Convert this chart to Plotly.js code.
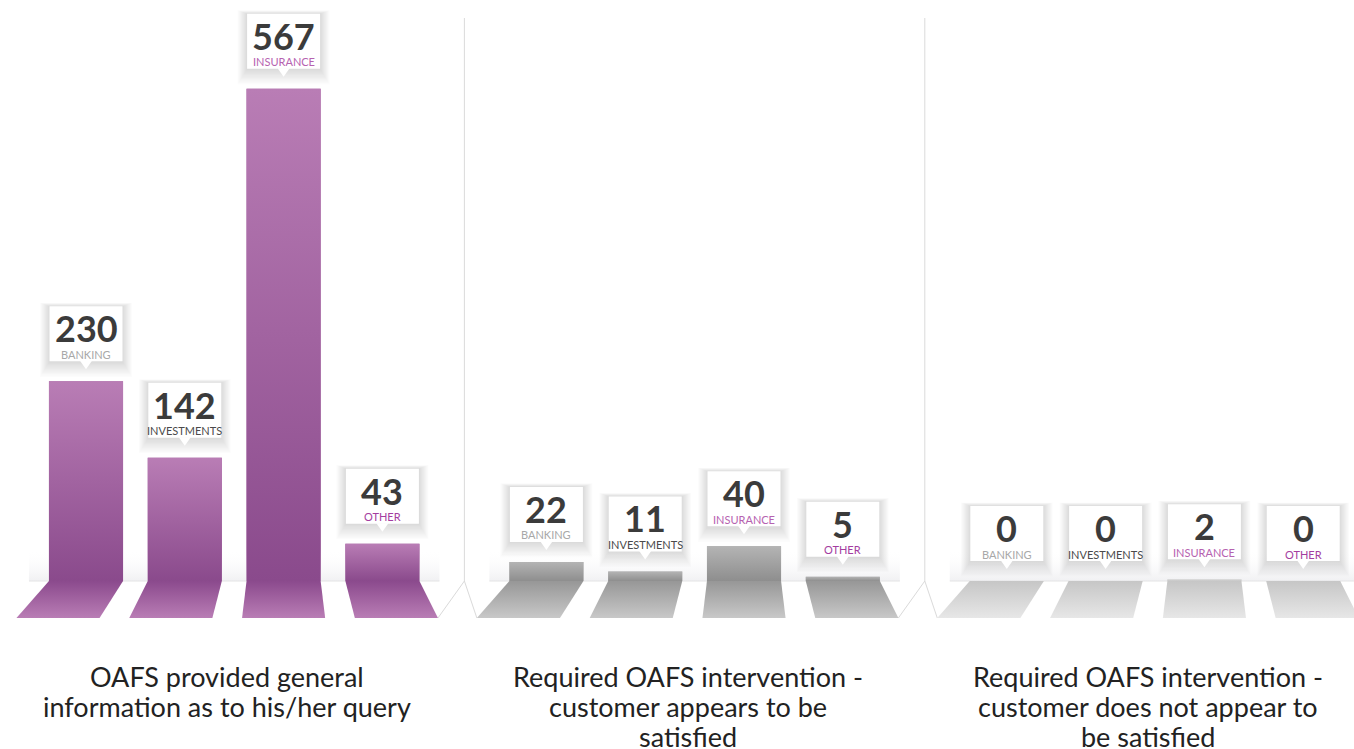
<!DOCTYPE html>
<html><head><meta charset="utf-8">
<script src="https://cdn.plot.ly/plotly-3.0.1.min.js"></script>
<style>html,body{margin:0;padding:0;background:#fff}#chart{width:1354px;height:749px}</style>
</head><body><div id="chart"></div>
<script>
// ---------- data ----------
const categories = ["BANKING", "INVESTMENTS", "INSURANCE", "OTHER"];
const groupLabels = [
  "OAFS provided general<br>information as to his/her query",
  "Required OAFS intervention -<br>customer appears to be<br>satisfied",
  "Required OAFS intervention -<br>customer does not appear to<br>be satisfied"
];
const generalInformation = [230, 142, 567, 43];
const interventionSatisfied = [22, 11, 40, 5];
const interventionNotSatisfied = [0, 0, 2, 0];
const seriesValues = [generalInformation, interventionSatisfied, interventionNotSatisfied];

// ---------- styles / layout constants ----------
const W = 1354, H = 749;
const BASE_PX = 581, PX_PER_UNIT = 0.868;
const BAR_STEP_PX = 98.8, FIRST_BAR_PX = 86;
const GROUP_STEP = 4.66, BAR_W = 0.75;
const FLOOR_PX = 37, FLOOR_SHIFT_PX = 14, FLOOR_EXTRA_PX = 4.5;
const yMin = -(H - BASE_PX) / PX_PER_UNIT, yMax = BASE_PX / PX_PER_UNIT;
const xMin = -FIRST_BAR_PX / BAR_STEP_PX, xMax = (W - FIRST_BAR_PX) / BAR_STEP_PX;
const floorY = -FLOOR_PX / PX_PER_UNIT;
const pxX = p => p / BAR_STEP_PX;

const barSolid = ["#a4609f", "#a0a0a0", "#d2d2d2"];
const barGrad = [
  [[0, "#8a4a8c"], [1, "#b97db5"]],
  [[0, "#8e8e8e"], [1, "#b4b4b4"]],
  [[0, "#c6c6c6"], [1, "#d9d9d9"]]
];
const floorGrad = [
  [[0, "#b97db5"], [1, "#8b4a8d"]],
  [[0, "#c8c8c8"], [1, "#979797"]],
  [[0, "#e7e7e7"], [1, "#c6c6c6"]]
];
const labelColors = ["#a8a8a8", "#4a4a4a", "#b662b0", "#a43da0"];
const FONT = "Lato, 'Open Sans', sans-serif";

const traces = [];
const shapes = [];
const annotations = [];

const xPos = (g, i) => g * GROUP_STEP + i;

seriesValues.forEach((vals, g) => {
  const gl = xPos(g, 0) - BAR_W / 2 - pxX(20), gr = xPos(g, 3) + BAR_W / 2 + pxX(20);
  // soft back-wall shading
  traces.push({
    type: "scatter", mode: "none", hoverinfo: "skip", showlegend: false,
    x: [gl, gr, gr, gl, gl], y: [0, 0, 32 / PX_PER_UNIT, 32 / PX_PER_UNIT, 0],
    fill: "toself",
    fillgradient: {type: "vertical", colorscale: [[0, "rgba(226,226,230,0.5)"], [1, "rgba(255,255,255,0)"]]}
  });
  // baseline
  shapes.push({type: "line", xref: "x", yref: "y", x0: gl, x1: gr, y0: 0, y1: 0,
    line: {color: "#e4e4e4", width: 1}, layer: "below"});
});

seriesValues.forEach((vals, g) => {
  // real bars
  traces.push({
    type: "bar", x: categories.map((c, i) => xPos(g, i)), y: vals, width: BAR_W,
    marker: {color: barSolid[g], line: {width: 0}},
    hovertext: categories, hoverinfo: "text+y", showlegend: false
  });
});

seriesValues.forEach((vals, g) => {
  vals.forEach((v, i) => {
    const c = xPos(g, i), l = c - BAR_W / 2, r = c + BAR_W / 2;
    // gradient face of bar
    if (v > 0) {
      traces.push({
        type: "scatter", mode: "none", hoverinfo: "skip", showlegend: false,
        x: [l, r, r, l, l], y: [0, 0, v, v, 0], fill: "toself",
        fillgradient: {type: "vertical", colorscale: barGrad[g]}
      });
    }
    // floor reflection
    const s = pxX((i - 2) * FLOOR_SHIFT_PX), e = pxX(FLOOR_EXTRA_PX);
    traces.push({
      type: "scatter", mode: "none", hoverinfo: "skip", showlegend: false,
      x: [l, r, r + s + e, l + s - e, l], y: [0, 0, floorY, floorY, 0], fill: "toself",
      fillgradient: {type: "vertical", colorscale: floorGrad[g]}
    });

    // callout box soft shadow
    for (let k = 12; k >= 1; k--) {
      shapes.push({type: "rect", xref: "x", yref: "y", layer: "above",
        xsizemode: "pixel", ysizemode: "pixel", xanchor: c, yanchor: v,
        x0: -36.5 - k * 0.8, x1: 36.5 + k * 0.8, y0: 20 - k * 1.3, y1: 75 + k * 0.3,
        fillcolor: "rgba(0,0,0,0.011)", line: {width: 0}});
    }
    shapes.push({type: "rect", xref: "x", yref: "y", layer: "above",
      xsizemode: "pixel", ysizemode: "pixel", xanchor: c, yanchor: v,
      x0: -36.5, x1: 36.5, y0: 20, y1: 75, fillcolor: "#ffffff", line: {width: 0}});
    shapes.push({type: "path", xref: "x", yref: "y", layer: "above",
      xsizemode: "pixel", ysizemode: "pixel", xanchor: c, yanchor: v,
      path: "M -6,20.5 L 6,20.5 L 0,12 Z", fillcolor: "#ffffff", line: {width: 0}});

    annotations.push({xref: "x", yref: "y", x: c, y: v, yshift: 53, showarrow: false,
      text: String(v), font: {family: FONT, size: 36, color: "#3b3b3b", weight: 700},
      xanchor: "center", yanchor: "middle"});
    annotations.push({xref: "x", yref: "y", x: c, y: v, yshift: 27, showarrow: false,
      text: categories[i], font: {family: FONT, size: 11, color: labelColors[i]},
      xanchor: "center", yanchor: "middle"});
  });
  // group label, one annotation per line for tight line spacing
  groupLabels[g].split("<br>").forEach((line, li) => {
    annotations.push({xref: "x", yref: "paper", x: xPos(g, 1.5), xshift: -7,
      y: 1 - (676 + li * 30) / H,
      showarrow: false, text: line, align: "center",
      font: {family: FONT, size: 27, color: "#222222"}, xanchor: "center", yanchor: "middle"});
  });
});

// dividers between groups
for (let g = 0; g < seriesValues.length - 1; g++) {
  const lastR = xPos(g, 3) + BAR_W / 2, nextL = xPos(g + 1, 0) - BAR_W / 2;
  const xd = (lastR + nextL) / 2;
  const xl = lastR + pxX(FLOOR_SHIFT_PX + FLOOR_EXTRA_PX);
  const xr = nextL - pxX(2 * FLOOR_SHIFT_PX + FLOOR_EXTRA_PX);
  const topY = (BASE_PX - 18) / PX_PER_UNIT;
  shapes.push({type: "path", xref: "x", yref: "y", layer: "below",
    path: `M ${xl},${floorY} L ${xd},0 L ${xd},${topY} M ${xd},0 L ${xr},${floorY}`,
    line: {color: "#dadada", width: 1}});
}

const layout = {
  width: W, height: H, margin: {l: 0, r: 0, t: 0, b: 0},
  paper_bgcolor: "#ffffff", plot_bgcolor: "#ffffff",
  xaxis: {range: [xMin, xMax], visible: false, fixedrange: true},
  yaxis: {range: [yMin, yMax], visible: false, fixedrange: true},
  barmode: "overlay", showlegend: false,
  shapes: shapes, annotations: annotations
};
Plotly.newPlot("chart", traces, layout, {displayModeBar: false, staticPlot: true});
</script>
</body></html>
